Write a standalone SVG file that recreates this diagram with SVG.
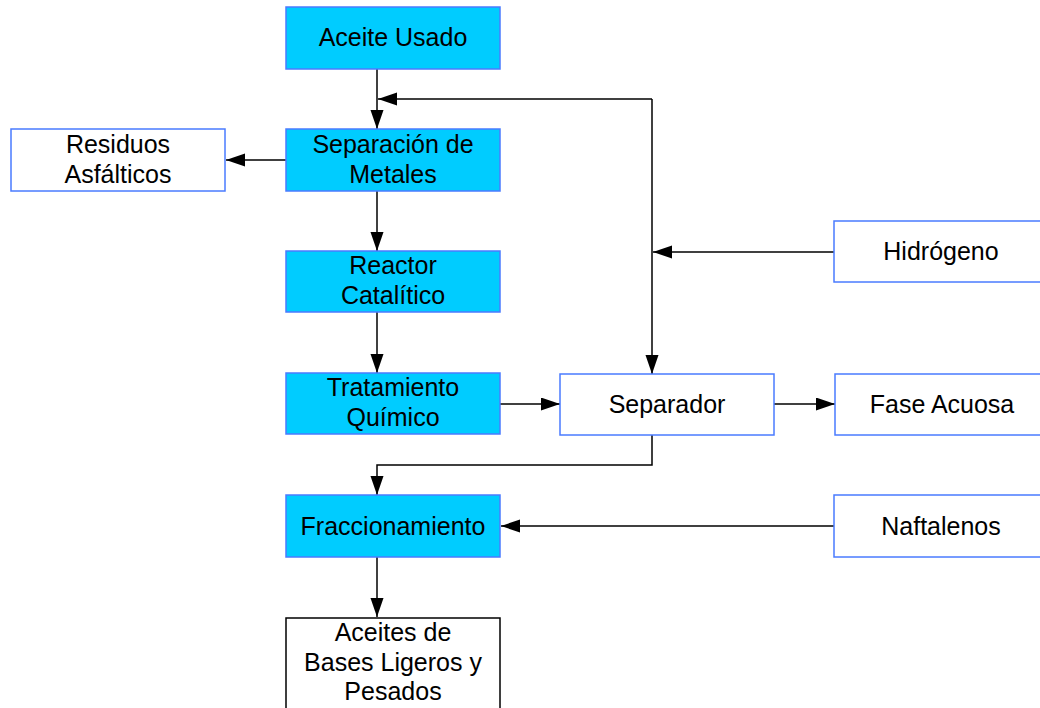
<svg xmlns="http://www.w3.org/2000/svg" width="1040" height="708" viewBox="0 0 1040 708">
<style>
.proc{fill:#00CCFF;stroke:#4A7BFF;stroke-width:1.5}
.ext{fill:#FFFFFF;stroke:#4A7BFF;stroke-width:1.5}
.out{fill:#FFFFFF;stroke:#000000;stroke-width:1.5}
text{font-family:"Liberation Sans",Arial,sans-serif;font-size:25px;fill:#000;text-anchor:middle}
.c{fill:none;stroke:#000;stroke-width:1.5}
</style>
<defs>
<marker id="ah" markerUnits="userSpaceOnUse" markerWidth="20" markerHeight="14" refX="19" refY="6.5" orient="auto">
<path d="M0,0 L19,6.5 L0,13 z" fill="#000"/>
</marker>
</defs>
<rect width="1040" height="708" fill="#FFFFFF"/>
<g id="connectors">
<path class="c" d="M377,69 L377,129" marker-end="url(#ah)"/>
<path class="c" d="M652,99 L378,99" marker-end="url(#ah)"/>
<path class="c" d="M652,99 L652,374" marker-end="url(#ah)"/>
<path class="c" d="M834,252 L653,252" marker-end="url(#ah)"/>
<path class="c" d="M286,160 L226,160" marker-end="url(#ah)"/>
<path class="c" d="M377,191 L377,251" marker-end="url(#ah)"/>
<path class="c" d="M377,312 L377,373" marker-end="url(#ah)"/>
<path class="c" d="M500,404 L560,404" marker-end="url(#ah)"/>
<path class="c" d="M774,404 L835,404" marker-end="url(#ah)"/>
<path class="c" d="M652,435 L652,465 L377,465 L377,495" marker-end="url(#ah)"/>
<path class="c" d="M834,526 L501,526" marker-end="url(#ah)"/>
<path class="c" d="M377,557 L377,617" marker-end="url(#ah)"/>
</g>
<g id="aceite-usado">
<rect class="proc" x="286" y="7" width="214" height="62"/>
<text x="393" y="46">Aceite Usado</text>
</g>
<g id="separacion-metales">
<rect class="proc" x="286" y="129" width="214" height="62"/>
<text x="393" y="153">Separación de</text>
<text x="393" y="183">Metales</text>
</g>
<g id="residuos-asfalticos">
<rect class="ext" x="11" y="129" width="214" height="62"/>
<text x="118" y="153">Residuos</text>
<text x="118" y="183">Asfálticos</text>
</g>
<g id="reactor-catalitico">
<rect class="proc" x="286" y="251" width="214" height="61"/>
<text x="393" y="274">Reactor</text>
<text x="393" y="304">Catalítico</text>
</g>
<g id="hidrogeno">
<rect class="ext" x="834" y="221" width="214" height="61"/>
<text x="941" y="260">Hidrógeno</text>
</g>
<g id="tratamiento-quimico">
<rect class="proc" x="286" y="373" width="214" height="61"/>
<text x="393" y="396">Tratamiento</text>
<text x="393" y="426">Químico</text>
</g>
<g id="separador">
<rect class="ext" x="560" y="374" width="214" height="61"/>
<text x="667" y="413">Separador</text>
</g>
<g id="fase-acuosa">
<rect class="ext" x="835" y="374" width="214" height="61"/>
<text x="942" y="413">Fase Acuosa</text>
</g>
<g id="fraccionamiento">
<rect class="proc" x="286" y="495" width="214" height="62"/>
<text x="393" y="535">Fraccionamiento</text>
</g>
<g id="naftalenos">
<rect class="ext" x="834" y="495" width="214" height="62"/>
<text x="941" y="535">Naftalenos</text>
</g>
<g id="aceites-bases">
<rect class="out" x="286" y="618" width="214" height="100"/>
<text x="393" y="641">Aceites de</text>
<text x="393" y="671">Bases Ligeros y</text>
<text x="393" y="700">Pesados</text>
</g>
</svg>
